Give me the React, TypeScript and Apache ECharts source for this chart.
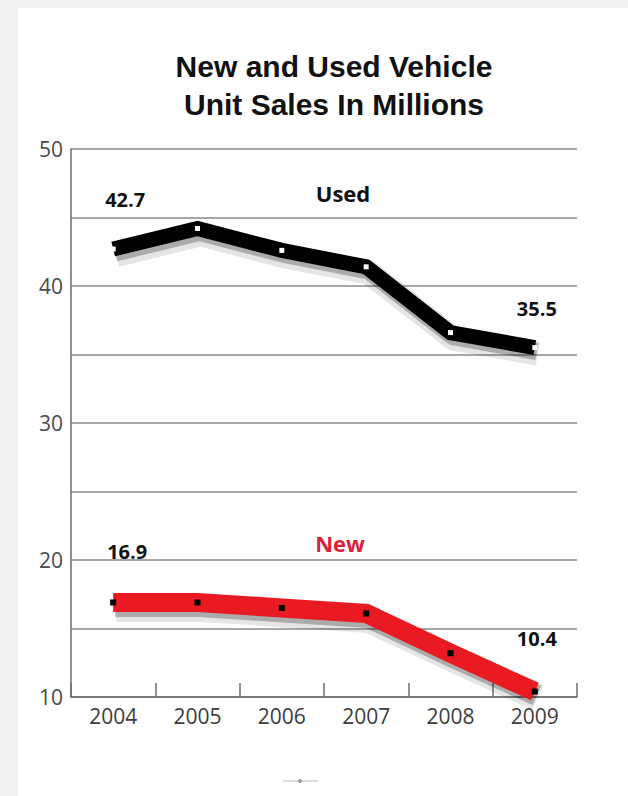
import React, { useEffect, useRef } from "react";
import * as echarts from "echarts";

const years = ["2004", "2005", "2006", "2007", "2008", "2009"];
const usedSales = [42.7, 44.2, 42.6, 41.4, 36.6, 35.5];
const newSales = [16.9, 16.9, 16.5, 16.1, 13.2, 10.4];
const yTicks = [10, 20, 30, 40, 50];

const titleText = "New and Used Vehicle\nUnit Sales In Millions";

export default function App() {
  const ref = useRef<HTMLDivElement>(null);

  useEffect(() => {
    if (!ref.current) return;
    const chart = echarts.init(ref.current, undefined, { renderer: "svg" });
    const last = years.length - 1;

    const labelFor = (i: number, dist: number[], off: number[][]) => {
      if (i === 0 || i === last) {
        const k = i === 0 ? 0 : 1;
        return {
          show: true,
          position: "top",
          distance: dist[k],
          offset: off[k],
          fontFamily: "Open Sans",
          fontWeight: "bold",
          fontSize: 20,
          color: "#111",
          formatter: (p: any) => String(p.value),
        };
      }
      return { show: false };
    };

    const shadowSeries = (vals: number[], width: number, alpha: number, idx: number) => ({
      type: "line",
      xAxisIndex: idx,
      yAxisIndex: idx,
      data: vals,
      symbol: "none",
      silent: true,
      lineStyle: {
        color: `rgba(0,0,0,${alpha})`,
        width,
        cap: "butt",
        join: "round",
      },
      z: 2,
    });

    const hiddenX = (idx: number) => ({
      type: "category",
      data: years,
      gridIndex: idx,
      boundaryGap: true,
      show: false,
    });
    const hiddenY = (idx: number) => ({
      type: "value",
      min: 10,
      max: 50,
      interval: 5,
      gridIndex: idx,
      show: false,
      splitLine: { show: false },
    });

    chart.setOption({
      animation: false,
      backgroundColor: "#f1f1f1",
      title: {
        text: titleText,
        left: 329,
        top: 42,
        textAlign: "center",
        textStyle: {
          fontFamily: "Liberation Sans",
          fontWeight: "bold",
          fontSize: 30,
          lineHeight: 38,
          color: "#111",
        },
      },
      graphic: [
        {
          type: "rect",
          z: -10,
          shape: { x: 18, y: 8, width: 620, height: 800 },
          style: {
            fill: "#ffffff",
          },
        },
        {
          type: "text",
          x: 343,
          y: 193,
          style: {
            text: "Used",
            fontFamily: "Open Sans",
            fontWeight: "bold",
            fontSize: 22,
            fill: "#111",
            align: "center",
            verticalAlign: "middle",
          },
        },
        {
          type: "text",
          x: 340,
          y: 543,
          style: {
            text: "New",
            fontFamily: "Open Sans",
            fontWeight: "bold",
            fontSize: 22,
            fill: "#d8223a",
            align: "center",
            verticalAlign: "middle",
          },
        },
        {
          type: "line",
          shape: { x1: 283, y1: 781, x2: 318, y2: 781 },
          style: { stroke: "#bbbbbb", lineWidth: 1 },
        },
        {
          type: "circle",
          shape: { cx: 300, cy: 781, r: 2 },
          style: { fill: "#999999" },
        },
      ],
      grid: [
        { left: 71, right: 51, top: 149, bottom: 99, containLabel: false },
        { left: 73, right: 49, top: 153, bottom: 95, containLabel: false },
        { left: 74, right: 48, top: 155, bottom: 93, containLabel: false },
      ],
      xAxis: [
        {
          type: "category",
          data: years,
          gridIndex: 0,
          boundaryGap: true,
          axisLine: { show: true, lineStyle: { color: "#6e6e6e", width: 1.5 } },
          axisTick: {
            show: true,
            inside: true,
            length: 14,
            lineStyle: { color: "#6e6e6e", width: 1.5 },
          },
          axisLabel: {
            margin: 8,
            fontFamily: "Open Sans",
            fontSize: 21,
            color: "#3c3c3c",
          },
          splitLine: { show: false },
        },
        hiddenX(1),
        hiddenX(2),
      ],
      yAxis: [
        {
          type: "value",
          min: 10,
          max: 50,
          interval: 5,
          gridIndex: 0,
          axisLine: { show: true, lineStyle: { color: "#6e6e6e", width: 1.5 } },
          axisTick: { show: false },
          axisLabel: {
            margin: 8,
            fontFamily: "Open Sans",
            fontSize: 21,
            color: "#4a4a4a",
            formatter: (v: number) => (yTicks.indexOf(v) >= 0 ? String(v) : ""),
          },
          splitLine: { show: true, lineStyle: { color: "#8a8a8a", width: 1.5 } },
        },
        hiddenY(1),
        hiddenY(2),
      ],
      series: [
        shadowSeries(usedSales, 24, 0.1, 2),
        shadowSeries(usedSales, 17, 0.25, 1),
        shadowSeries(newSales, 27, 0.1, 2),
        shadowSeries(newSales, 21, 0.25, 1),
        {
          name: "Used",
          type: "line",
          xAxisIndex: 0,
          yAxisIndex: 0,
          data: usedSales.map((v, i) => ({
            value: v,
            label: labelFor(i, [37, 27], [[12, 0], [2, 0]]),
          })),
          symbol: "rect",
          symbolSize: 5,
          showSymbol: true,
          itemStyle: { color: "#ffffff" },
          lineStyle: {
            color: "#000000",
            width: 15,
            cap: "butt",
            join: "miter",
          },
          z: 3,
        },
        {
          name: "New",
          type: "line",
          xAxisIndex: 0,
          yAxisIndex: 0,
          data: newSales.map((v, i) => ({
            value: v,
            label: labelFor(i, [38, 40], [[14, 0], [2, 0]]),
          })),
          symbol: "rect",
          symbolSize: 6,
          showSymbol: true,
          itemStyle: { color: "#000000" },
          lineStyle: {
            color: "#ea1a22",
            width: 19,
            cap: "butt",
            join: "miter",
          },
          z: 3,
        },
      ],
    });

    return () => chart.dispose();
  }, []);

  return (
    <div
      ref={ref}
      style={{ position: "absolute", left: 0, top: 0, width: 628, height: 796 }}
    />
  );
}
